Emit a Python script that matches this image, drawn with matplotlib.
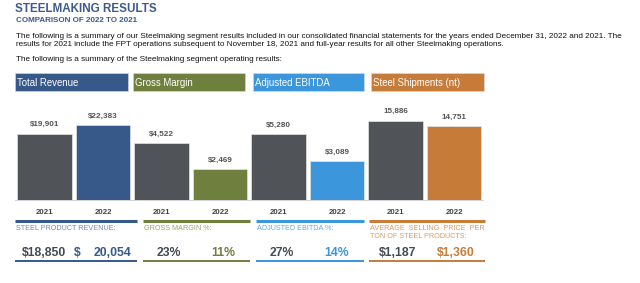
import matplotlib
matplotlib.use("Agg")
from matplotlib import pyplot as plt
from matplotlib.patches import Rectangle
from matplotlib.lines import Line2D

plt.rcParams['font.family'] = ['Liberation Sans', 'DejaVu Sans']

# ---- data ----
panels = ['Total Revenue', 'Gross Margin', 'Adjusted EBITDA', 'Steel Shipments (nt)']
years = ['2021', '2022']
values_2021 = [19901, 4522, 5280, 15886]
values_2022 = [22383, 2469, 3089, 14751]
bar_labels_2021 = ['$19,901', '$4,522', '$5,280', '15,886']
bar_labels_2022 = ['$22,383', '$2,469', '$3,089', '14,751']
panel_ymax = [30000, 8000, 8000, 20000]
sub_labels = ['STEEL PRODUCT REVENUE:', 'GROSS MARGIN %:', 'ADJUSTED EBITDA %:',
              'AVERAGE  SELLING  PRICE  PER\nTON OF STEEL PRODUCTS:']
metric_2021 = ['$18,850', '23%', '27%', '$1,187']
metric_2022 = ['20,054', '11%', '14%', '$1,360']

colors = ['#36598a', '#6e7f3e', '#3b96dc', '#c77b38']
light_colors = ['#6f8bb3', '#9ea56c', '#5eaae6', '#d89c62']
dark = '#505358'

W, H = 640, 283
fig = plt.figure(figsize=(W / 100, H / 100), dpi=100)


def fx(x):
    return x / W


def fy(y):
    return 1 - y / H


def ftext(x, y, s, **kw):
    fig.text(fx(x), fy(y), s, **kw)


# ---- heading text ----
ftext(15, 9, 'STEELMAKING RESULTS', fontsize=8.4, fontweight='bold', color='#3c5b8b', va='center')
ftext(16, 20, 'COMPARISON OF 2022 TO 2021', fontsize=5.8, fontweight='bold', color='#3c5b8b', va='center')
para = ('The following is a summary of our Steelmaking segment results included in our consolidated '
        'financial statements for the years ended December 31, 2022 and 2021. The\n'
        'results for 2021 include the FPT operations subsequent to November 18, 2021 and full-year '
        'results for all other Steelmaking operations.')
ftext(16, 32.5, para, fontsize=5.87, color='#111111', va='top', linespacing=1.4)
ftext(16, 56, 'The following is a summary of the Steelmaking segment operating results:',
      fontsize=5.87, color='#111111', va='top')

# ---- header boxes ----
box_x = [15, 133, 253, 371]
box_w = [113, 112, 111, 113]
for i, name in enumerate(panels):
    fig.patches.append(Rectangle((fx(box_x[i]), fy(91)), fx(box_w[i]), 18 / H,
                                 transform=fig.transFigure, facecolor=colors[i],
                                 edgecolor='#dddddd', linewidth=0.4))
    ftext(box_x[i] + 2, 82.5, name, fontsize=6.9, color='white', va='center')

# ---- bars: one axes per panel, each with its own scale ----
for i in range(len(panels)):
    left = 15.25 + 117 * i
    ax = fig.add_axes([fx(left), fy(200), fx(117), 100 / H])
    vals = [values_2021[i], values_2022[i]]
    bars = ax.bar([0, 1], vals, width=0.94, color=[dark, colors[i]],
                  edgecolor='#e4e4e4', linewidth=0.5)
    ax.set_xlim(-0.5, 1.5)
    ax.set_ylim(0, panel_ymax[i])
    for b, lab in zip(bars, [bar_labels_2021[i], bar_labels_2022[i]]):
        ax.annotate(lab, (b.get_x() + b.get_width() / 2, b.get_height()),
                    xytext=(0, 6.5), textcoords='offset points', ha='center', va='center',
                    fontsize=5.9, fontweight='bold', color='#555555')
    for s in ['top', 'left', 'right']:
        ax.spines[s].set_visible(False)
    ax.spines['bottom'].set_color('#cccccc')
    ax.spines['bottom'].set_linewidth(0.6)
    ax.set_xticks([])
    ax.set_yticks([])
    ax.patch.set_alpha(0)

    # years below bars
    c0 = left + 29.25
    c1 = left + 87.75
    ftext(c0, 213, years[0], fontsize=5.7, fontweight='bold', color='#444444', ha='center', va='center')
    ftext(c1, 213, years[1], fontsize=5.7, fontweight='bold', color='#444444', ha='center', va='center')

# ---- lower summary block ----
line_x = [(15, 137), (143, 250), (256, 364), (369, 485)]
val_x0 = [44, 169, 282, 398]
val_x1 = [113, 223, 337, 456]
for i in range(len(panels)):
    x0, x1 = line_x[i]
    fig.lines.append(Line2D([fx(x0), fx(x1)], [fy(221), fy(221)], transform=fig.transFigure,
                            color=colors[i], linewidth=2.2, solid_capstyle='butt'))
    ftext(x0 + 1, 225, sub_labels[i], fontsize=5.2, color=light_colors[i], va='top', linespacing=1.2)
    ftext(val_x0[i], 252.5, metric_2021[i], fontsize=8.8, fontweight='bold', color='#454a52',
          ha='center', va='center')
    ftext(val_x1[i], 252.5, metric_2022[i], fontsize=8.8, fontweight='bold', color=colors[i],
          ha='center', va='center')
    fig.lines.append(Line2D([fx(x0), fx(x1)], [fy(261), fy(261)], transform=fig.transFigure,
                            color=colors[i], linewidth=1.4, solid_capstyle='butt'))
ftext(77, 252.5, '$', fontsize=8.8, fontweight='bold', color=colors[0], ha='center', va='center')

fig.savefig('out.png', dpi=100, facecolor='white')
